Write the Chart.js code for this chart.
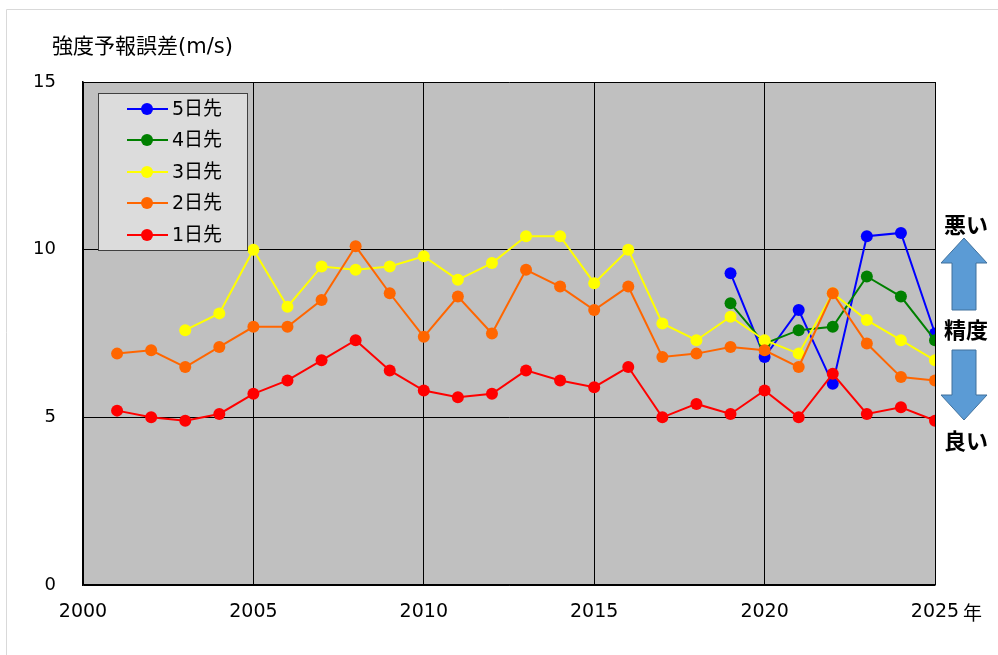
<!DOCTYPE html>
<html>
<head>
<meta charset="utf-8">
<script src="https://cdn.jsdelivr.net/npm/chart.js@4/dist/chart.umd.min.js"></script>
<style>
  html, body { margin: 0; padding: 0; background: #fff; }
  #wrap { width: 998px; height: 655px; }
</style>
</head>
<body>
<div id="wrap"><canvas id="c" width="998" height="655"></canvas></div>
<script>
// years on the x axis
const years = [2001, 2002, 2003, 2004, 2005, 2006, 2007, 2008, 2009, 2010, 2011, 2012, 2013,
               2014, 2015, 2016, 2017, 2018, 2019, 2020, 2021, 2022, 2023, 2024, 2025];

// forecast error (m/s), null = no forecast that year
const day1 = [5.2, 5.0, 4.9, 5.1, 5.7, 6.1, 6.7, 7.3, 6.4, 5.8, 5.6, 5.7, 6.4,
              6.1, 5.9, 6.5, 5.0, 5.4, 5.1, 5.8, 5.0, 6.3, 5.1, 5.3, 4.9];
const day2 = [6.9, 7.0, 6.5, 7.1, 7.7, 7.7, 8.5, 10.1, 8.7, 7.4, 8.6, 7.5, 9.4,
              8.9, 8.2, 8.9, 6.8, 6.9, 7.1, 7.0, 6.5, 8.7, 7.2, 6.2, 6.1];
const day3 = [null, null, 7.6, 8.1, 10.0, 8.3, 9.5, 9.4, 9.5, 9.8, 9.1, 9.6, 10.4,
              10.4, 9.0, 10.0, 7.8, 7.3, 8.0, 7.3, 6.9, 8.7, 7.9, 7.3, 6.7];
const day4 = [null, null, null, null, null, null, null, null, null, null, null, null, null,
              null, null, null, null, null, 8.4, 7.2, 7.6, 7.7, 9.2, 8.6, 7.3];
const day5 = [null, null, null, null, null, null, null, null, null, null, null, null, null,
              null, null, null, null, null, 9.3, 6.8, 8.2, 6.0, 10.4, 10.5, 7.5];

const seriesNames = ['1日先', '2日先', '3日先', '4日先', '5日先'];
const seriesColors = ['#ff0000', '#ff6600', '#ffff00', '#008000', '#0000ff'];
const seriesData = [day1, day2, day3, day4, day5];

const xTicks = [2000, 2005, 2010, 2015, 2020, 2025];
const yTicks = [0, 5, 10, 15];

const FONT = '"DejaVu Sans", "Noto Sans CJK JP", sans-serif';
const JP = '"Noto Sans CJK JP", "DejaVu Sans", sans-serif';

const datasets = seriesData.map((vals, i) => ({
  label: seriesNames[i],
  data: years.map((y, k) => ({ x: y, y: vals[k] })),
  borderColor: seriesColors[i],
  backgroundColor: seriesColors[i],
  borderWidth: 2,
  pointRadius: 6,
  pointHoverRadius: 6,
  pointBorderWidth: 0,
  spanGaps: false
}));

// background, legend box and side notes
const decor = {
  id: 'decor',
  beforeDraw(chart) {
    const ctx = chart.ctx, a = chart.chartArea;
    ctx.save();
    // light frame
    ctx.strokeStyle = '#d9d9d9';
    ctx.lineWidth = 1;
    ctx.beginPath();
    ctx.moveTo(6.5, 655); ctx.lineTo(6.5, 9.5); ctx.lineTo(998, 9.5);
    ctx.stroke();
    ctx.fillStyle = '#c0c0c0';
    ctx.fillRect(a.left, a.top, a.right - a.left, a.bottom - a.top);
    ctx.restore();
  },
  afterDraw(chart) {
    const ctx = chart.ctx;
    ctx.save();
    // title
    ctx.fillStyle = '#000';
    ctx.font = '21px ' + FONT;
    ctx.textBaseline = 'middle';
    ctx.textAlign = 'left';
    ctx.fillText('強度予報誤差(m/s)', 52, 48);

    // 年 after last x label
    ctx.font = '19px ' + JP;
    ctx.fillText('年', 963, 613);

    // legend box
    ctx.fillStyle = '#dcdcdc';
    ctx.fillRect(98.5, 93.5, 149, 157);
    ctx.strokeStyle = '#404040';
    ctx.lineWidth = 1;
    ctx.strokeRect(98.5, 93.5, 149, 157);
    const rows = [109, 140, 172, 203, 235];
    for (let r = 0; r < 5; r++) {
      const i = 4 - r;
      const y = rows[r];
      ctx.strokeStyle = seriesColors[i];
      ctx.lineWidth = 2;
      ctx.beginPath(); ctx.moveTo(127, y); ctx.lineTo(168, y); ctx.stroke();
      ctx.fillStyle = seriesColors[i];
      ctx.beginPath(); ctx.arc(147, y, 6, 0, Math.PI * 2); ctx.fill();
      ctx.fillStyle = '#000';
      ctx.font = '19px ' + FONT;
      ctx.textAlign = 'left';
      ctx.fillText(seriesNames[i], 172, y + 1);
    }

    // side notes
    ctx.fillStyle = '#000';
    ctx.font = 'bold 22px ' + JP;
    ctx.textAlign = 'center';
    ctx.fillText('悪い', 966, 225);
    ctx.fillText('精度', 966, 330);
    ctx.fillText('良い', 966, 441);

    const arrow = (tipY, baseY) => {
      const dir = tipY < baseY ? 1 : -1;
      const headEnd = tipY + dir * 25;
      ctx.beginPath();
      ctx.moveTo(964, tipY);
      ctx.lineTo(987, headEnd);
      ctx.lineTo(976, headEnd);
      ctx.lineTo(976, baseY);
      ctx.lineTo(952, baseY);
      ctx.lineTo(952, headEnd);
      ctx.lineTo(941, headEnd);
      ctx.closePath();
      ctx.fillStyle = '#5b9bd5';
      ctx.fill();
      ctx.strokeStyle = '#41719c';
      ctx.lineWidth = 1;
      ctx.stroke();
    };
    arrow(238, 310);
    arrow(420, 350);
    ctx.restore();
  }
};

new Chart(document.getElementById('c'), {
  type: 'line',
  data: { datasets },
  options: {
    responsive: false,
    animation: false,
    layout: { padding: { top: 82, right: 63, left: 0, bottom: 0 } },
    plugins: { legend: { display: false }, tooltip: { enabled: false } },
    scales: {
      x: {
        type: 'linear',
        min: 2000, max: 2025,
        afterBuildTicks: s => { s.ticks = xTicks.map(v => ({ value: v })); },
        afterFit: s => { s.height = 70; },
        ticks: {
          color: '#000',
          font: { family: FONT, size: 19 },
          padding: 16,
          maxRotation: 0,
          callback: v => String(v)
        },
        grid: { color: '#000', lineWidth: 1, drawTicks: false },
        border: { color: '#000', width: 1.5 }
      },
      y: {
        min: 0, max: 15,
        afterBuildTicks: s => { s.ticks = yTicks.map(v => ({ value: v })); },
        afterFit: s => { s.width = 83; },
        ticks: {
          color: '#000',
          font: { family: FONT, size: 18 },
          padding: 27
        },
        grid: { color: '#000', lineWidth: 1, drawTicks: false },
        border: { color: '#000', width: 1.5 }
      }
    }
  },
  plugins: [decor]
});
</script>
</body>
</html>
